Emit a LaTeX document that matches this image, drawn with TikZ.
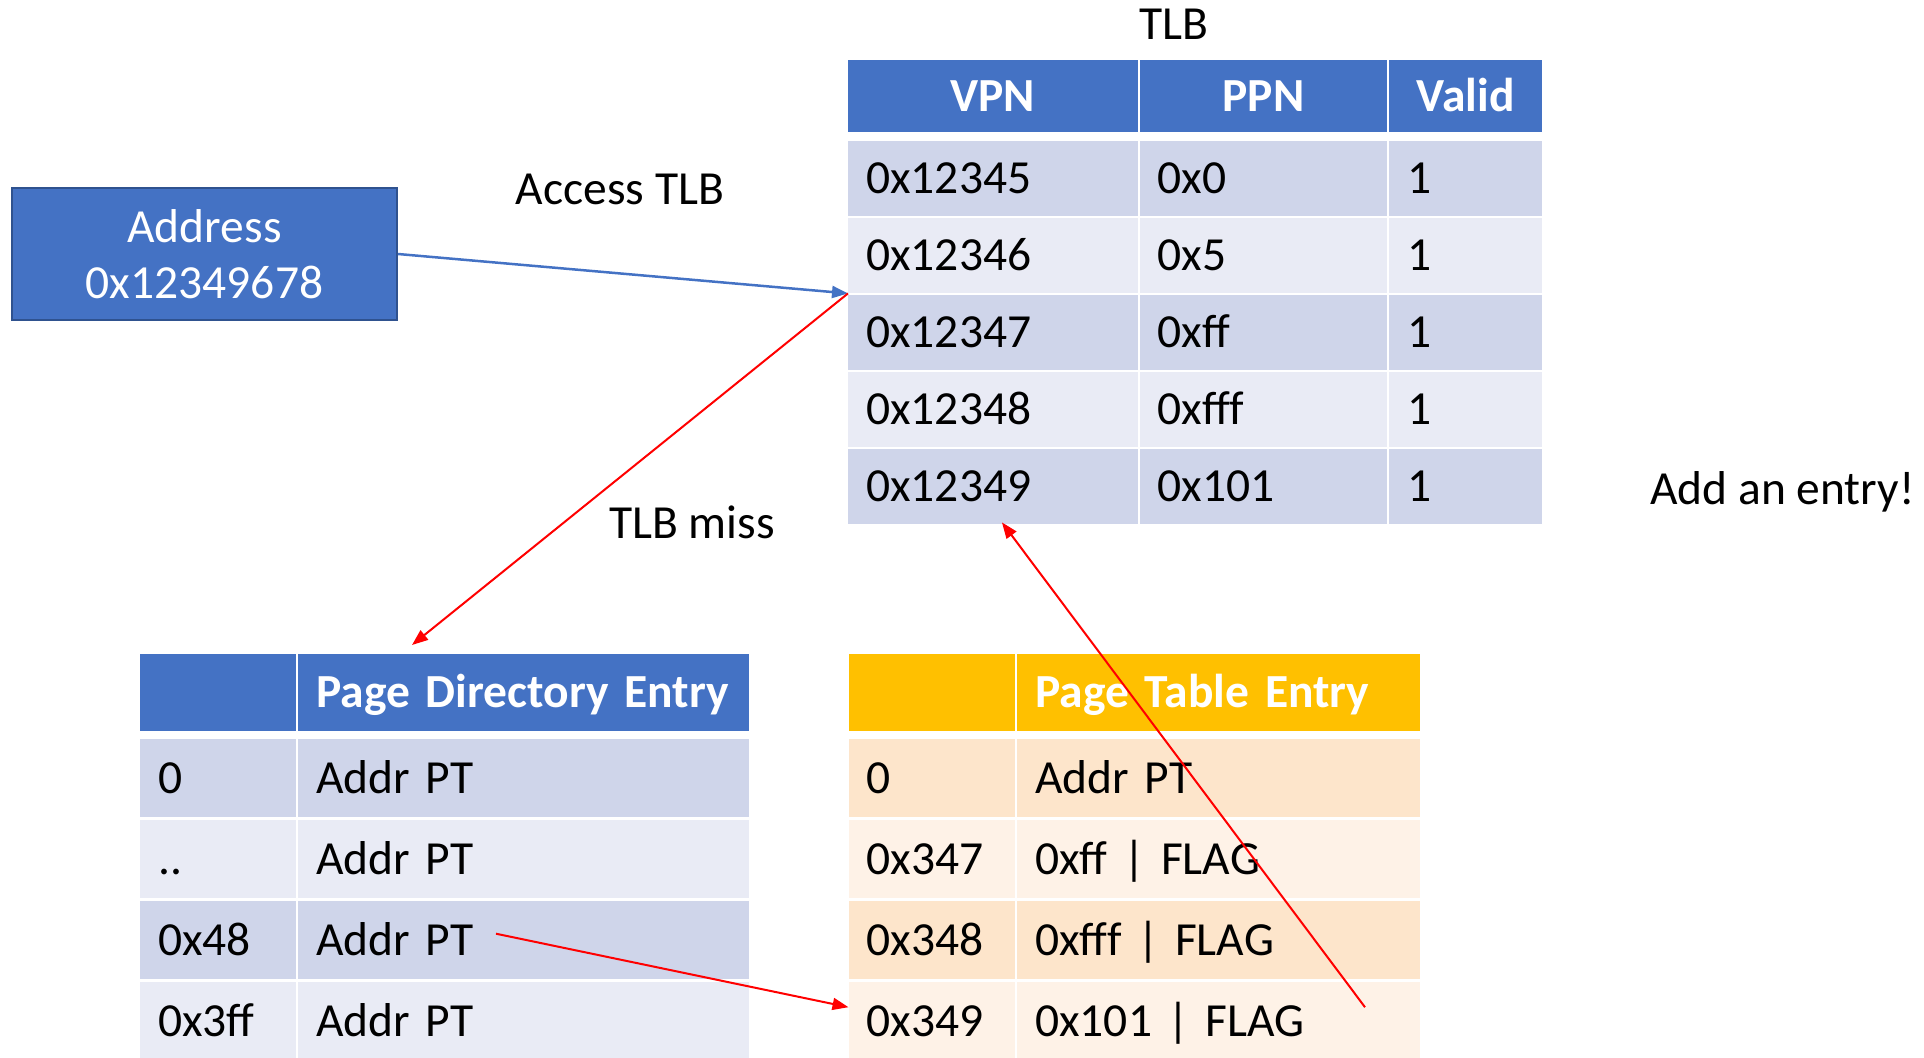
\documentclass[tikz,border=0pt]{standalone}
\usepackage{fontspec}
\setmainfont{Carlito}
\usetikzlibrary{arrows.meta}

\definecolor{hdblue}{HTML}{4472C4}
\definecolor{bandblueA}{HTML}{CFD5EA}
\definecolor{bandblueB}{HTML}{E9EBF5}
\definecolor{hdgold}{HTML}{FFC000}
\definecolor{bandgoldA}{HTML}{FDE5CB}
\definecolor{bandgoldB}{HTML}{FEF2E7}
\definecolor{boxedge}{HTML}{2F528F}
\definecolor{missred}{HTML}{FF0000}

\tikzset{
  txt/.style={font=\fontsize{47.5}{56}\selectfont},
  lbl/.style={txt, inner sep=0pt, text height=30pt, text depth=0pt},
  cell/.style={txt, anchor=north west, inner xsep=18pt, inner ysep=0pt,
    text height=30pt, text depth=0pt, align=left},
  head/.style={cell, text=white, font=\fontsize{47.5}{56}\selectfont\bfseries},
  lookup/.style={draw=hdblue, line width=2.5pt, -{Triangle[length=16pt,width=12pt]}},
  miss/.style={draw=missred, line width=2pt, -{Triangle[length=16pt,width=12pt]}},
}

\begin{document}
\begin{tikzpicture}[x=1pt,y=-1pt]
\useasboundingbox (0,0) rectangle (1924,1057);

\node[txt, draw=boxedge, line width=2pt, fill=hdblue, text=white, minimum width=385pt,
  minimum height=132pt, align=center] (addr) at (204.5,254) {Address\\0x12349678};

% TLB
\node[lbl] (tlbname) at (1174,25) {TLB};
\foreach \c/\x/\w/\t in {1/848/253.5pt/VPN, 2/1139.5/211.5pt/PPN, 3/1389/117pt/Valid}
  \node[head, fill=hdblue, text width=\w, minimum height=72pt, align=center] (tlb-0-\c) at (\x,60) {\t};
\foreach \vpn/\ppn/\band [count=\i] in {0x12345/0x0/bandblueA, 0x12346/0x5/bandblueB,
    0x12347/0xff/bandblueA, 0x12348/0xfff/bandblueB, 0x12349/0x101/bandblueA}{
  \pgfmathsetmacro\y{141+77*(\i-1)}
  \node[cell, fill=\band, text width=253.5pt, minimum height=75pt] (tlb-\i-1) at (848,\y) {\vpn};
  \node[cell, fill=\band, text width=211.5pt, minimum height=75pt] (tlb-\i-2) at (1139.5,\y) {\ppn};
  \node[cell, fill=\band, text width=117pt, minimum height=75pt] (tlb-\i-3) at (1389,\y) {1};
}

% page directory
\node[head, fill=hdblue, text width=119.5pt, minimum height=77pt] (pd-0-1) at (140,654) {};
\node[head, fill=hdblue, text width=415pt, minimum height=77pt] (pd-0-2) at (298,654) {Page Directory Entry};
\foreach \idx/\band [count=\i] in {0/bandblueA, ../bandblueB, 0x48/bandblueA, 0x3ff/bandblueB}{
  \pgfmathsetmacro\y{739+81*(\i-1)}
  \node[cell, fill=\band, text width=119.5pt, minimum height=78pt] (pd-\i-1) at (140,\y) {\idx};
  \node[cell, fill=\band, text width=415pt, minimum height=78pt] (pd-\i-2) at (298,\y) {Addr PT};
}

% page table
\node[head, fill=hdgold, text width=130pt, minimum height=77pt] (pt-0-1) at (848.5,654) {};
\node[head, fill=hdgold, text width=367pt, minimum height=77pt] (pt-0-2) at (1017,654) {Page Table Entry};
\foreach \idx/\val/\band [count=\i] in {0/Addr PT/bandgoldA, 0x347/0xff | FLAG/bandgoldB,
    0x348/0xfff | FLAG/bandgoldA, 0x349/0x101 | FLAG/bandgoldB}{
  \pgfmathsetmacro\y{739+81*(\i-1)}
  \node[cell, fill=\band, text width=130pt, minimum height=78pt] (pt-\i-1) at (848.5,\y) {\idx};
  \node[cell, fill=\band, text width=367pt, minimum height=78pt] (pt-\i-2) at (1017,\y) {\val};
}

\node[lbl] (access) at (620,189) {Access TLB};
\node[lbl] (tlbmiss) at (692,523) {TLB miss};
\node[lbl, anchor=west] (addentry) at (1650,489) {Add an entry!};

\coordinate (tlbin) at (tlb-2-1.south west);
\draw[lookup] (addr.east) -- (tlbin);
\draw[miss] (tlbin) -- ([xshift=114pt,yshift=9pt]pd-0-2.north west);
\draw[miss] ([xshift=198pt,yshift=6.5pt]pd-3-2.west) -- ([yshift=14pt]pt-4-1.west);
\draw[miss] ([xshift=348pt,yshift=14pt]pt-4-2.west) -- ([xshift=9pt,yshift=2pt]tlb-5-1.south);
\end{tikzpicture}
\end{document}
